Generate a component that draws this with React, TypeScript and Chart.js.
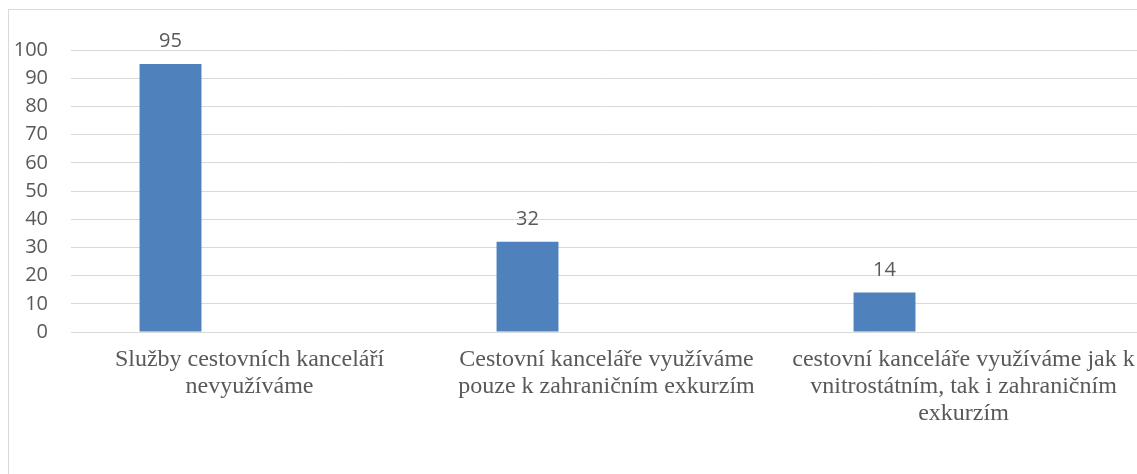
import React, { useEffect, useRef } from "react";
import { Chart, registerables } from "chart.js";

Chart.register(...registerables);

const categories: string[][] = [
  ["Služby cestovních kanceláří", "nevyužíváme"],
  ["Cestovní kanceláře využíváme", "pouze k zahraničním exkurzím"],
  ["cestovní kanceláře využíváme jak k", "vnitrostátním, tak i zahraničním", "exkurzím"],
];
const seriesValues: (number | null)[] = [95, 32, 14];
const emptySeries: (number | null)[] = [null, null, null];
const yTicks = { min: 0, max: 100, step: 10 };

const TEXT = "#595959";
const GRID = "#D9D9D9";
const BAR = "#4F81BD";

const dataLabels = {
  id: "dataLabels",
  afterDatasetsDraw(chart: any) {
    const ctx = chart.ctx;
    ctx.save();
    ctx.font = "20px 'Open Sans'";
    ctx.fillStyle = TEXT;
    ctx.textAlign = "center";
    ctx.textBaseline = "alphabetic";
    chart.data.datasets.forEach((ds: any, i: number) => {
      const meta = chart.getDatasetMeta(i);
      meta.data.forEach((bar: any, j: number) => {
        const v = ds.data[j];
        if (v == null) return;
        ctx.fillText(String(v), bar.x, bar.y - 17);
      });
    });
    ctx.restore();
  },
};

export default function App() {
  const ref = useRef<HTMLCanvasElement | null>(null);
  useEffect(() => {
    if (!ref.current) return;
    const chart = new Chart(ref.current, {
      type: "bar",
      data: {
        labels: categories,
        datasets: [
          {
            data: seriesValues,
            backgroundColor: BAR,
            categoryPercentage: 0.885,
            barPercentage: 0.392,
          },
          {
            data: emptySeries,
            backgroundColor: "#C0504D",
            categoryPercentage: 0.885,
            barPercentage: 0.392,
          },
        ],
      },
      options: {
        animation: false,
        responsive: true,
        maintainAspectRatio: false,
        layout: { padding: { top: 40, right: 7, left: 0, bottom: 0 } },
        plugins: {
          legend: { display: false },
          tooltip: { enabled: false },
        },
        scales: {
          x: {
            grid: { display: false },
            border: { display: false },
            ticks: {
              color: TEXT,
              font: { family: "'Liberation Serif'", size: 24, lineHeight: 1.13 },
              maxRotation: 0,
              minRotation: 0,
              autoSkip: false,
              padding: 6,
            },
            afterFit(scale: any) {
              scale.height = 138;
            },
          },
          y: {
            min: yTicks.min,
            max: yTicks.max,
            grid: { color: GRID, lineWidth: 1, drawTicks: false },
            border: { display: false },
            ticks: {
              stepSize: yTicks.step,
              color: TEXT,
              font: { family: "'Open Sans'", size: 20 },
              padding: 23,
            },
            afterFit(scale: any) {
              scale.width = 62;
            },
          },
        },
      },
      plugins: [dataLabels],
    });
    return () => chart.destroy();
  }, []);

  return (
    <div
      style={{
        position: "fixed",
        left: 0,
        top: 0,
        width: 1137,
        height: 474,
        overflow: "hidden",
        background: "#fff",
      }}
    >
      <div
        style={{
          position: "absolute",
          left: 8,
          top: 9,
          width: 1200,
          height: 520,
          border: `1px solid ${GRID}`,
          boxSizing: "border-box",
        }}
      >
        <div style={{ position: "relative", width: 1140, height: 460 }}>
          <canvas ref={ref} />
        </div>
      </div>
    </div>
  );
}
